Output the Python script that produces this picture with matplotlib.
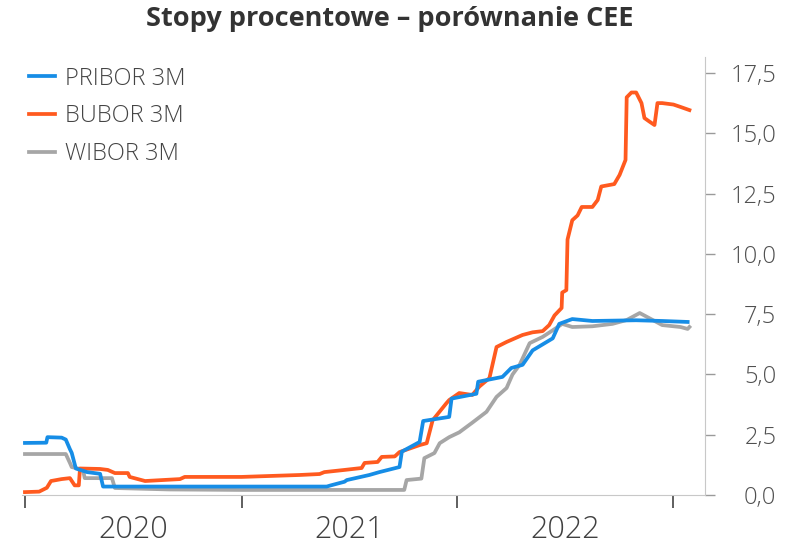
import numpy as np
import pandas as pd
import matplotlib
matplotlib.use("Agg")
import matplotlib.pyplot as plt
import matplotlib.dates as mdates

plt.rcParams['font.family'] = ['Open Sans', 'DejaVu Sans']

# PRIBOR 3M (Czechia)
pribor_dates = ["2020-01-01", "2020-02-06", "2020-02-08", "2020-03-03", "2020-03-10",
                "2020-03-17", "2020-03-20", "2020-03-27", "2020-04-15", "2020-05-07",
                "2020-05-12", "2020-09-01", "2021-05-25", "2021-06-01", "2021-06-24",
                "2021-06-28", "2021-08-05", "2021-08-22", "2021-09-25", "2021-09-29",
                "2021-10-29", "2021-11-04", "2021-12-18", "2021-12-22", "2022-02-02",
                "2022-02-05", "2022-03-18", "2022-04-02", "2022-04-21", "2022-05-08",
                "2022-06-11", "2022-06-22", "2022-07-14", "2022-08-17", "2022-10-30",
                "2022-12-13", "2023-01-25"]
pribor = [2.16, 2.17, 2.40, 2.38, 2.30,
          1.90, 1.75, 1.10, 0.95, 0.88,
          0.35, 0.35, 0.35, 0.40, 0.55,
          0.62, 0.83, 0.95, 1.16, 1.80,
          2.20, 3.07, 3.24, 4.00, 4.20,
          4.70, 4.90, 5.27, 5.40, 6.00,
          6.50, 7.10, 7.30, 7.22, 7.25,
          7.22, 7.18]

# BUBOR 3M (Hungary)
bubor_dates = ["2020-01-01", "2020-01-25", "2020-02-07", "2020-02-14", "2020-03-03",
               "2020-03-17", "2020-03-25", "2020-04-01", "2020-04-03", "2020-05-07",
               "2020-05-20", "2020-06-01", "2020-06-23", "2020-06-26", "2020-07-22",
               "2020-09-19", "2020-09-27", "2021-01-01", "2021-04-09", "2021-05-13",
               "2021-05-21", "2021-06-24", "2021-07-23", "2021-07-28", "2021-08-19",
               "2021-08-26", "2021-09-17", "2021-09-25", "2021-10-29", "2021-11-10",
               "2021-11-20", "2021-12-13", "2021-12-18", "2022-01-04", "2022-01-26",
               "2022-02-07", "2022-02-24", "2022-03-08", "2022-03-25", "2022-04-21",
               "2022-05-08", "2022-05-25", "2022-06-05", "2022-06-14", "2022-06-26",
               "2022-06-27", "2022-07-04", "2022-07-06", "2022-07-14", "2022-07-23",
               "2022-07-30", "2022-08-17", "2022-08-26", "2022-09-01", "2022-09-23",
               "2022-10-02", "2022-10-12", "2022-10-14", "2022-10-22", "2022-10-30",
               "2022-11-08", "2022-11-13", "2022-11-21", "2022-11-30", "2022-12-05",
               "2022-12-13", "2023-01-01", "2023-01-13", "2023-01-28"]
bubor = [0.12, 0.14, 0.30, 0.58, 0.66,
         0.70, 0.40, 0.40, 1.10, 1.08,
         1.04, 0.91, 0.91, 0.75, 0.58,
         0.66, 0.75, 0.75, 0.83, 0.87,
         0.95, 1.04, 1.12, 1.33, 1.37,
         1.58, 1.60, 1.78, 2.07, 2.15,
         3.10, 3.80, 3.94, 4.23, 4.15,
         4.50, 4.85, 6.14, 6.35, 6.64,
         6.75, 6.80, 7.05, 7.45, 7.76,
         8.40, 8.50, 10.60, 11.40, 11.60,
         11.95, 11.95, 12.24, 12.80, 12.90,
         13.28, 13.90, 16.50, 16.70, 16.70,
         16.26, 15.64, 15.50, 15.35, 16.26,
         16.26, 16.20, 16.10, 15.97]

# WIBOR 3M (Poland)
wibor_dates = ["2020-01-01", "2020-03-10", "2020-03-17", "2020-03-20", "2020-04-08",
               "2020-04-11", "2020-05-27", "2020-06-01", "2020-09-01", "2021-01-01",
               "2021-10-03", "2021-10-07", "2021-11-01", "2021-11-06", "2021-11-23",
               "2021-12-02", "2021-12-18", "2022-01-04", "2022-01-26", "2022-02-19",
               "2022-03-08", "2022-03-25", "2022-04-04", "2022-04-16", "2022-05-03",
               "2022-05-25", "2022-06-17", "2022-06-27", "2022-07-14", "2022-08-17",
               "2022-09-20", "2022-10-14", "2022-11-05", "2022-11-21", "2022-12-13",
               "2023-01-13", "2023-01-25", "2023-01-28"]
wibor = [1.70, 1.70, 1.33, 1.16, 1.05,
         0.70, 0.70, 0.29, 0.23, 0.21,
         0.21, 0.62, 0.68, 1.53, 1.74,
         2.15, 2.40, 2.60, 3.00, 3.45,
         4.07, 4.44, 5.00, 5.40, 6.30,
         6.56, 6.93, 7.10, 6.97, 7.00,
         7.10, 7.26, 7.55, 7.34, 7.05,
         6.97, 6.89, 6.97]

years = ["2020", "2021", "2022"]
yticks = [0, 2.5, 5, 7.5, 10, 12.5, 15, 17.5]

fig = plt.figure(figsize=(8, 5.54), dpi=100)
ax = fig.add_axes([0.0275, 0.1065, 0.8535, 0.7905])

ax.plot(pd.to_datetime(wibor_dates), wibor, color="#a6a6a6", lw=2.7, label="WIBOR 3M", zorder=2)
ax.plot(pd.to_datetime(bubor_dates), bubor, color="#ff5a1f", lw=2.7, label="BUBOR 3M", zorder=3)
ax.plot(pd.to_datetime(pribor_dates), pribor, color="#168de6", lw=2.7, label="PRIBOR 3M", zorder=4)

ax.set_xlim(pd.Timestamp("2019-12-27"), pd.Timestamp("2023-02-23"))
ax.set_ylim(0, 18.17)

# x axis: ticks at year starts, labels mid-year
ax.xaxis.set_major_locator(mdates.YearLocator())
ax.xaxis.set_major_formatter(plt.NullFormatter())
ax.set_xticks([pd.Timestamp(y + "-07-02") for y in years], minor=True)
ax.set_xticklabels(years, minor=True, fontweight="light")
ax.tick_params(axis="x", which="major", length=9, width=1.2, color="#444444", direction="out")
ax.tick_params(axis="x", which="minor", length=0, pad=14, labelsize=22, labelcolor="#404040")

# y axis on the right, labels right-aligned
ax.yaxis.tick_right()
ax.set_yticks(yticks)
ax.set_yticklabels([f"{v:.1f}".replace(".", ",") for v in yticks], ha="right", fontweight="light")
ax.tick_params(axis="y", length=7.5, width=1, color="#9a9a9a", pad=44, labelsize=17, labelcolor="#505050")

for s in ["top", "left"]:
    ax.spines[s].set_visible(False)
ax.spines["right"].set_color("#c8c8c8")
ax.spines["bottom"].set_color("#c8c8c8")

handles, labels = ax.get_legend_handles_labels()
order = [2, 1, 0]
leg = ax.legend([handles[i] for i in order], [labels[i] for i in order],
                loc="upper left", bbox_to_anchor=(-0.003, 1.0), frameon=False,
                prop={"size": 17, "weight": "light"}, handlelength=1.1, handletextpad=0.4,
                labelspacing=0.58, borderaxespad=0)
for t in leg.get_texts():
    t.set_color("#444444")

fig.text(0.4875, 0.965, "Stopy procentowe \u2013 porównanie CEE", ha="center", va="center",
         fontsize=19.5, fontweight="bold", color="#333333")

fig.savefig("out.png", dpi=100)
